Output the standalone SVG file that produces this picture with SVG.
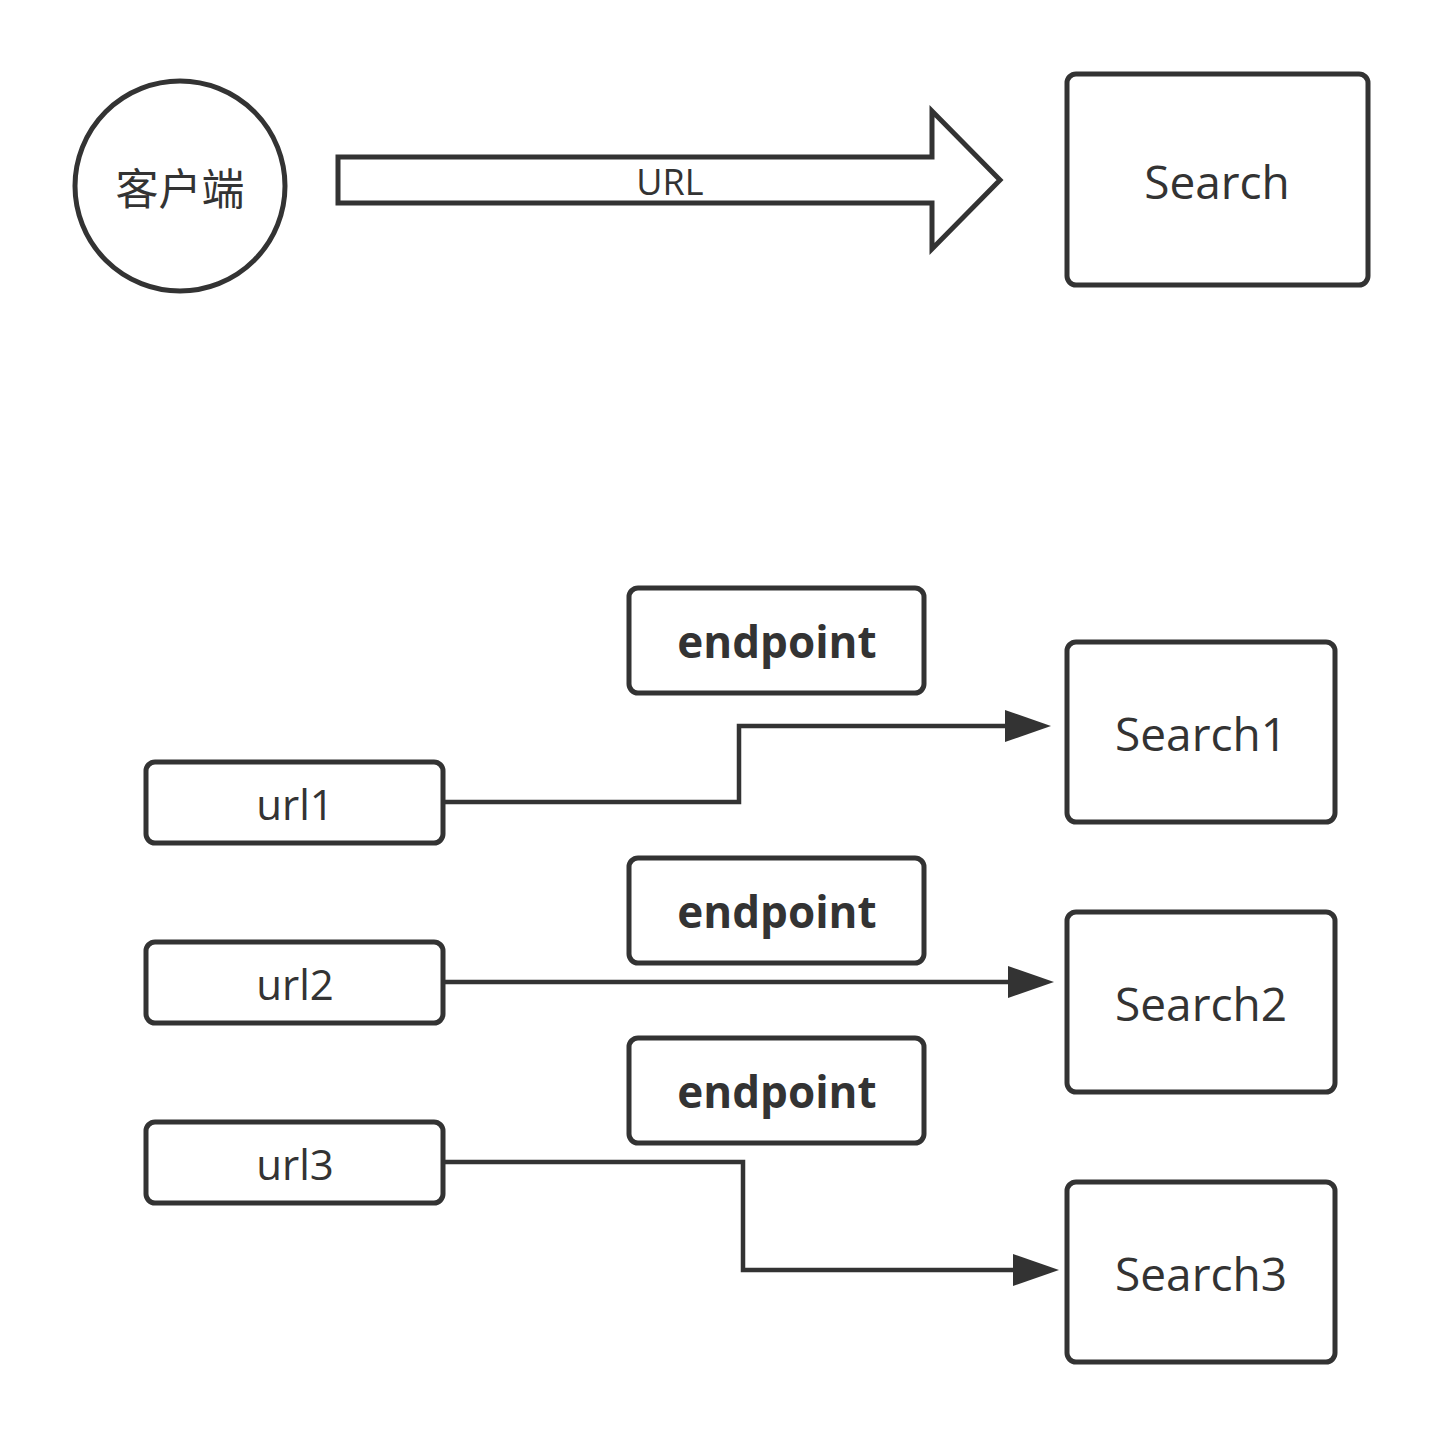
<svg xmlns="http://www.w3.org/2000/svg" width="1443" height="1437" viewBox="0 0 1443 1437">
<style>
.box{fill:#fff;stroke:#333;stroke-width:5}
.t{font-family:"Open Sans","Noto Sans","Noto Sans CJK SC",sans-serif;fill:#333;text-anchor:middle;dominant-baseline:central}
.b{font-weight:bold}
.c{fill:none;stroke:#333;stroke-width:4.5}
</style>
<defs>
<marker id="ah" markerUnits="userSpaceOnUse" markerWidth="48" markerHeight="34" refX="1" refY="16" orient="auto">
<path d="M0,0 L46,16 L0,32 Z" fill="#333"/>
</marker>
</defs>
<rect width="1443" height="1437" fill="#fff"/>
<g id="client">
<circle class="box" cx="180" cy="186" r="105"/>
<text class="t" x="180" y="188" font-size="43" font-family="Noto Sans CJK SC, sans-serif">客户端</text>
</g>
<g id="url-arrow">
<path class="box" d="M338,157 L932,157 L932,111 L1000,180 L932,249 L932,203 L338,203 Z"/>
<text class="t" x="670" y="181" font-size="36">URL</text>
</g>
<g id="search">
<rect class="box" x="1067" y="74" width="301" height="211" rx="9"/>
<text class="t" x="1217" y="181" font-size="46">Search</text>
</g>
<g id="endpoint1">
<rect class="box" x="629" y="588" width="295" height="105" rx="9"/>
<text class="t b" x="777" y="641" font-size="44">endpoint</text>
</g>
<g id="endpoint2">
<rect class="box" x="629" y="858" width="295" height="105" rx="9"/>
<text class="t b" x="777" y="911" font-size="44">endpoint</text>
</g>
<g id="endpoint3">
<rect class="box" x="629" y="1038" width="295" height="105" rx="9"/>
<text class="t b" x="777" y="1091" font-size="44">endpoint</text>
</g>
<g id="url1">
<rect class="box" x="146" y="762" width="297" height="81" rx="9"/>
<text class="t" x="295" y="803" font-size="42">url1</text>
</g>
<g id="url2">
<rect class="box" x="146" y="942" width="297" height="81" rx="9"/>
<text class="t" x="295" y="983" font-size="42">url2</text>
</g>
<g id="url3">
<rect class="box" x="146" y="1122" width="297" height="81" rx="9"/>
<text class="t" x="295" y="1163" font-size="42">url3</text>
</g>
<g id="search1">
<rect class="box" x="1067" y="642" width="268" height="180" rx="9"/>
<text class="t" x="1201" y="733" font-size="46">Search1</text>
</g>
<g id="search2">
<rect class="box" x="1067" y="912" width="268" height="180" rx="9"/>
<text class="t" x="1201" y="1003" font-size="46">Search2</text>
</g>
<g id="search3">
<rect class="box" x="1067" y="1182" width="268" height="180" rx="9"/>
<text class="t" x="1201" y="1273" font-size="46">Search3</text>
</g>
<g id="connectors">
<path class="c" d="M445,802 L739,802 L739,726 L1006,726" marker-end="url(#ah)"/>
<path class="c" d="M445,982 L1009,982" marker-end="url(#ah)"/>
<path class="c" d="M445,1162 L743,1162 L743,1270 L1014,1270" marker-end="url(#ah)"/>
</g>
</svg>
